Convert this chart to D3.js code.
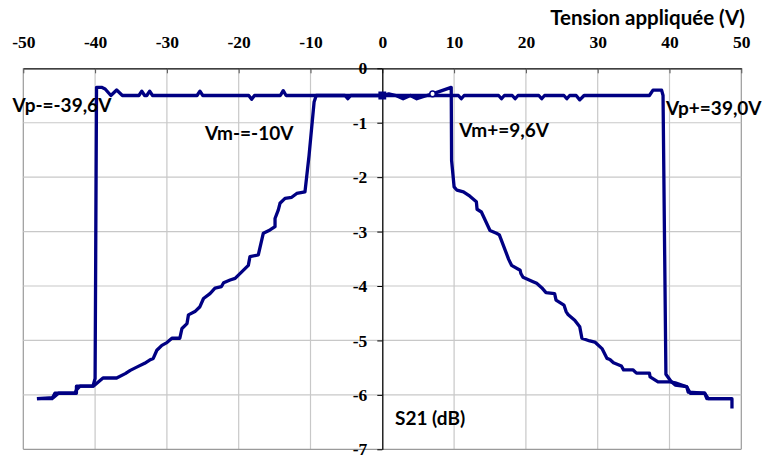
<!DOCTYPE html>
<html><head><meta charset="utf-8">
<script src="https://cdn.jsdelivr.net/npm/d3@7"></script>
<style>
html,body{margin:0;padding:0;background:#fff;}
svg{display:block;}
</style></head>
<body><div id="chart"></div>
<script>
// ---------- data ----------
const xTicks = [-50,-40,-30,-20,-10,0,10,20,30,40,50];
const yTicks = [0,-1,-2,-3,-4,-5,-6,-7];
const xTitle = "Tension appliquée (V)";
const yTitle = "S21 (dB)";

// sweep 0 -> +49 V
const posUpV = [0,10.6,11.0,11.4,16.2,16.6,17.0,18.1,18.5,18.9,21.8,22.2,22.6,25.3,25.7,26.1,27.0,27.5,28.1,37.2,37.7,38.9,39.1,39.5,40.2,40.8,42.4,42.6,44.9,45.2,48.7,48.7];
const posUpS = [-0.5,-0.5,-0.56,-0.5,-0.5,-0.56,-0.5,-0.5,-0.56,-0.5,-0.5,-0.56,-0.5,-0.5,-0.56,-0.5,-0.5,-0.58,-0.5,-0.5,-0.4,-0.4,-0.5,-5.62,-5.75,-5.82,-5.85,-5.95,-5.97,-6.07,-6.07,-6.25];

// sweep +49 V -> 0
const posDownV = [48.7,45.4,44.9,42.9,42.4,40.8,40.1,38.4,37.3,37.2,35.4,34.9,33.6,33.3,32.2,31.7,31.3,30.6,29.6,28.9,27.8,27.5,26.8,25.9,25.6,25.3,24.2,24.0,22.8,22.2,21.5,21.0,19.6,19.3,19.2,18.0,17.6,16.3,15.9,15.0,13.8,13.2,13.1,12.2,11.3,10.4,10.0,9.65,9.6,7.0,6.2,4.8,3.9,2.9,1.9,0.9,0];
const posDownS = [-6.07,-6.07,-5.97,-5.97,-5.85,-5.78,-5.76,-5.76,-5.67,-5.60,-5.60,-5.54,-5.54,-5.47,-5.41,-5.35,-5.33,-5.15,-5.03,-5.01,-4.96,-4.75,-4.63,-4.53,-4.47,-4.35,-4.26,-4.14,-4.12,-4.03,-3.95,-3.92,-3.84,-3.77,-3.71,-3.62,-3.51,-3.06,-3.03,-2.98,-2.64,-2.59,-2.45,-2.35,-2.27,-2.24,-2.18,-1.69,-0.35,-0.47,-0.5,-0.56,-0.5,-0.56,-0.5,-0.47,-0.5];

// sweep 0 -> -48 V
const negDownV = [0,-4.4,-4.8,-5.2,-9.2,-9.5,-10.2,-10.77,-11.92,-12.62,-13.55,-14.25,-14.48,-14.94,-14.94,-15.64,-16.57,-17.27,-18.43,-18.66,-19.58,-20.5,-21.2,-22.1,-22.4,-23.3,-24.0,-24.9,-25.4,-26.1,-27.0,-27.2,-27.9,-28.2,-29.3,-30.0,-30.7,-31.4,-31.9,-32.4,-33.1,-34.2,-35.1,-35.8,-37.0,-38.9,-40.25,-42.1,-42.6,-42.8,-45.1,-45.8,-48.1];
const negDownS = [-0.5,-0.5,-0.56,-0.5,-0.5,-0.62,-1.6,-2.27,-2.30,-2.37,-2.39,-2.48,-2.60,-2.76,-2.91,-2.97,-3.03,-3.43,-3.46,-3.62,-3.74,-3.86,-3.89,-3.94,-4.01,-4.04,-4.14,-4.23,-4.38,-4.47,-4.53,-4.69,-4.78,-4.96,-4.96,-5.04,-5.09,-5.18,-5.33,-5.36,-5.42,-5.49,-5.55,-5.61,-5.69,-5.69,-5.84,-5.84,-5.91,-5.97,-5.97,-6.05,-6.07];

// sweep -48 V -> 0
const negUpV = [-48.1,-46.0,-45.6,-42.6,-42.6,-40.3,-40.0,-39.8,-39.1,-38.6,-37.8,-37.0,-36.2,-33.9,-33.5,-33.1,-32.8,-32.4,-32.0,-25.8,-25.4,-25.0,-18.6,-18.2,-17.8,-14.2,-13.8,-13.4,0];
const negUpS = [-6.07,-6.07,-5.97,-5.97,-5.84,-5.84,-5.70,-0.35,-0.35,-0.38,-0.5,-0.4,-0.5,-0.5,-0.42,-0.5,-0.5,-0.42,-0.5,-0.5,-0.42,-0.5,-0.5,-0.57,-0.5,-0.5,-0.41,-0.5,-0.5];

const markerV = [0, 7.0];
const markerS = [-0.5, -0.47];
const markerShape = ["square","circle"];

const labelText = ["Vp-=-39,6V","Vm-=-10V","Vm+=9,6V","Vp+=39,0V"];
const labelV = [-51.5,-24.7,10.7,39.5];
const labelS = [-0.8,-1.32,-1.26,-0.86];

// ---------- drawing ----------
const W = 763, H = 457;
const svg = d3.select("#chart").append("svg").attr("width",W).attr("height",H);
const x = d3.scaleLinear().domain([-50,50]).range([23.3,741.3]);
const y = d3.scaleLinear().domain([0,-7]).range([68.3,449.3]);

const grid = svg.append("g");
grid.selectAll("line.v").data(xTicks.filter(d=>d!==0)).join("line")
  .attr("x1",d=>x(d)).attr("x2",d=>x(d)).attr("y1",y(0)).attr("y2",y(-7))
  .attr("stroke",d=>(d===-50||d===50)?"#9a9a9a":"#c8c8c8").attr("stroke-width",1.2);
grid.selectAll("line.h").data(yTicks.filter(d=>d!==0)).join("line")
  .attr("x1",x(-50)).attr("x2",x(50)).attr("y1",d=>y(d)).attr("y2",d=>y(d))
  .attr("stroke",d=>d===-7?"#9a9a9a":"#c8c8c8").attr("stroke-width",1.2);

const tickFont = "'Liberation Serif', 'Times New Roman', serif";
const xAxis = svg.append("g").attr("transform",`translate(0,${y(0)})`)
  .call(d3.axisTop(x).tickValues(xTicks).tickFormat(d=>String(d)).tickSize(-5).tickSizeOuter(0).tickPadding(20));
xAxis.select(".domain").attr("stroke","#000").attr("stroke-width",1.3);
xAxis.selectAll(".tick line").attr("stroke","#555");
xAxis.selectAll(".tick text").attr("font-family",tickFont).attr("font-weight","bold").attr("font-size",17.5).attr("fill","#000");

const yAxis = svg.append("g").attr("transform",`translate(${x(0)},0)`)
  .call(d3.axisLeft(y).tickValues(yTicks).tickFormat(d=>String(d)).tickSize(5).tickSizeOuter(0).tickPadding(10));
yAxis.select(".domain").attr("stroke","#000").attr("stroke-width",1.3);
yAxis.selectAll(".tick line").attr("stroke","#000");
yAxis.selectAll(".tick text").attr("font-family",tickFont).attr("font-weight","bold").attr("font-size",17.5).attr("fill","#000");

const line = d3.line().x(d=>x(d[0])).y(d=>y(d[1]));
const series = [[posUpV,posUpS],[posDownV,posDownS],[negDownV,negDownS],[negUpV,negUpS]];
const navy = "#000083";
svg.append("g").selectAll("path").data(series).join("path")
  .attr("d",s=>line(s[0].map((v,i)=>[v,s[1][i]])))
  .attr("fill","none").attr("stroke",navy).attr("stroke-width",3.3).attr("stroke-linejoin","round");

svg.append("g").selectAll("path").data(markerV.map((v,i)=>({v,s:markerS[i],t:markerShape[i]}))).join("path")
  .attr("transform",d=>`translate(${x(d.v)},${y(d.s)})`)
  .attr("d",d=>d3.symbol().type(d.t==="square"?d3.symbolSquare:d3.symbolCircle).size(d.t==="square"?40:24)())
  .attr("fill",d=>d.t==="square"?navy:"#fff").attr("stroke",navy).attr("stroke-width",1.5);

const sansFont = "Lato, 'Open Sans', sans-serif";
svg.append("g").selectAll("text").data(labelText).join("text")
  .attr("x",(d,i)=>x(labelV[i])).attr("y",(d,i)=>y(labelS[i]))
  .attr("font-family",sansFont).attr("font-weight","bold").attr("font-size",19).attr("fill","#000")
  .text(d=>d);

svg.append("text").attr("x",745).attr("y",25).attr("text-anchor","end")
  .attr("font-family",sansFont).attr("font-weight","bold").attr("font-size",20.5).text(xTitle);
svg.append("text").attr("x",x(1.77)).attr("y",y(-6.56))
  .attr("font-family",sansFont).attr("font-weight","bold").attr("font-size",19).text(yTitle);
</script></body></html>
